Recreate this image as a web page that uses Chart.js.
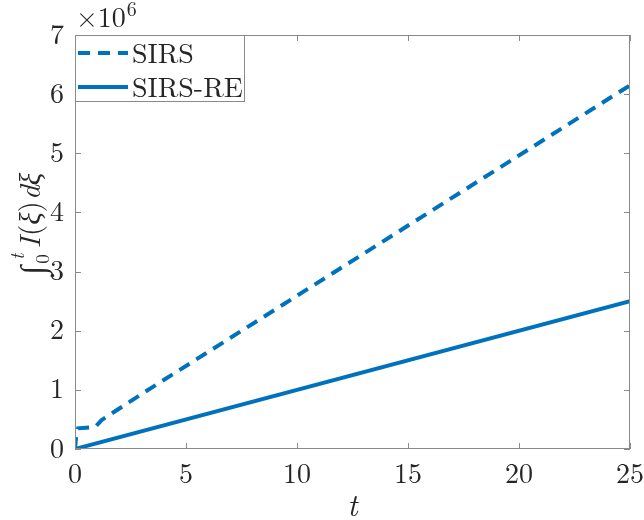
<!DOCTYPE html>
<html><head><meta charset="utf-8">
<script src="https://cdn.jsdelivr.net/npm/chart.js@4/dist/chart.umd.min.js"></script>
</head><body style="margin:0">
<canvas id="c" width="644" height="520"></canvas>
<script>
// ---- data ----
const sirsT = [0, 0.05, 0.14, 0.5, 0.9, 1.2, 3, 25];
const sirsValues = [0, 0.2e6, 0.35e6, 0.36e6, 0.37e6, 0.49e6, 0.93e6, 6.15e6];
const sirsReT = [0, 25];
const sirsReValues = [0, 2.5e6];
const seriesNames = ['SIRS', 'SIRS-RE'];
const xTickValues = [0, 5, 10, 15, 20, 25];
const yTickValues = [0, 1, 2, 3, 4, 5, 6, 7]; // ×10^6
const yScaleFactor = 1e6;

const BLUE = '#0072BD';
const AXIS = '#8a8a8a';
const TXT = '#262626';
const SERIF = '"Latin Modern Roman"';
const TICK_FONT = 28;

function pts(xs, ys) { return xs.map((x, i) => ({x: x, y: ys[i]})); }

const decorPlugin = {
  id: 'decor',
  afterDatasetsDraw(chart) {
    const {ctx, chartArea: a, scales: {x, y}} = chart;
    ctx.save();
    ctx.strokeStyle = AXIS; ctx.lineWidth = 1;
    ctx.strokeRect(a.left + 0.5, a.top + 0.5, a.right - a.left - 1, a.bottom - a.top - 1);
    const L = 6;
    ctx.beginPath();
    xTickValues.forEach(v => {
      const p = Math.round(x.getPixelForValue(v)) + 0.5;
      ctx.moveTo(p, a.bottom); ctx.lineTo(p, a.bottom - L);
      ctx.moveTo(p, a.top); ctx.lineTo(p, a.top + L);
    });
    yTickValues.forEach(v => {
      const p = Math.round(y.getPixelForValue(v * yScaleFactor)) + 0.5;
      ctx.moveTo(a.left, p); ctx.lineTo(a.left + L, p);
      ctx.moveTo(a.right, p); ctx.lineTo(a.right - L, p);
    });
    ctx.stroke();

    // exponent label ×10^6
    ctx.fillStyle = TXT;
    ctx.textBaseline = 'alphabetic';
    ctx.textAlign = 'left';
    ctx.font = '28px ' + SERIF;
    const ex = a.left + 1, ey = a.top - 8;
    ctx.fillText('×10', ex, ey);
    const w = ctx.measureText('×10').width;
    ctx.font = '20px ' + SERIF;
    ctx.fillText('6', ex + w + 1, ey - 11);

    // legend
    const lx = a.left, ly = a.top, lw = 169, lh = 66;
    ctx.fillStyle = '#fff';
    ctx.fillRect(lx, ly, lw, lh);
    ctx.strokeStyle = AXIS; ctx.lineWidth = 1;
    ctx.strokeRect(lx + 0.5, ly + 0.5, lw, lh);
    chart.data.datasets.forEach((ds, i) => {
      const yy = ly + 18 + i * 34;
      ctx.save();
      ctx.strokeStyle = ds.borderColor; ctx.lineWidth = ds.borderWidth;
      ctx.setLineDash(ds.borderDash || []);
      ctx.beginPath(); ctx.moveTo(lx + 3, yy); ctx.lineTo(lx + 53, yy); ctx.stroke();
      ctx.restore();
      ctx.fillStyle = TXT;
      ctx.font = TICK_FONT + 'px ' + SERIF;
      ctx.textBaseline = 'middle';
      ctx.fillText(ds.label, lx + 57, yy + 1);
    });

    // y-axis title: ∫_0^t I(ξ)dξ
    ctx.save();
    ctx.translate(31, (a.top + a.bottom) / 2 - 18);
    ctx.rotate(-Math.PI / 2);
    ctx.fillStyle = TXT;
    ctx.textBaseline = 'alphabetic';
    const parts = [
      {t: '∫', f: '34px ' + SERIF, dy: 4, dx: 0},
      {t: 't', f: 'italic 19px ' + SERIF, dy: -16, dx: 6, keep: true},
      {t: '0', f: '19px ' + SERIF, dy: 9, dx: 2},
      {t: 'I', f: 'italic 29px ' + SERIF, dy: 0, dx: 6},
      {t: '(', f: '29px ' + SERIF, dy: 0, dx: 1},
      {t: 'ξ', f: 'italic 29px ' + SERIF, dy: 0, dx: 0},
      {t: ')', f: '29px ' + SERIF, dy: 0, dx: 0},
      {t: 'd', f: 'italic 29px ' + SERIF, dy: 0, dx: 1},
      {t: 'ξ', f: 'italic 29px ' + SERIF, dy: 0, dx: 0}
    ];
    let total = 0;
    const widths = parts.map(p => { ctx.font = p.f; return ctx.measureText(p.t).width; });
    parts.forEach((p, i) => { if (!p.keep) total += widths[i] + p.dx; });
    let cx = -total / 2;
    parts.forEach((p, i) => {
      ctx.font = p.f;
      ctx.fillText(p.t, cx + p.dx, p.dy + 9);
      if (!p.keep) cx += widths[i] + p.dx;
    });
    ctx.restore();
    ctx.restore();
  }
};

new Chart(document.getElementById('c'), {
  type: 'line',
  data: {
    datasets: [
      {label: seriesNames[0], data: pts(sirsT, sirsValues), borderColor: BLUE, borderWidth: 4,
       borderDash: [12, 8], pointRadius: 0, tension: 0, fill: false},
      {label: seriesNames[1], data: pts(sirsReT, sirsReValues), borderColor: BLUE, borderWidth: 4,
       pointRadius: 0, tension: 0, fill: false}
    ]
  },
  options: {
    responsive: false,
    animation: false,
    devicePixelRatio: 1,
    layout: {padding: {left: 0, right: 14, top: 35, bottom: 0}},
    plugins: {legend: {display: false}, tooltip: {enabled: false}},
    scales: {
      x: {
        type: 'linear', min: 0, max: 25,
        afterFit: s => { s.height = 71; s.paddingRight = 0; s.paddingLeft = 0; },
        afterBuildTicks: s => { s.ticks = xTickValues.map(v => ({value: v})); },
        grid: {display: false, drawTicks: false},
        border: {display: false},
        ticks: {color: TXT, font: {family: SERIF, size: TICK_FONT}, padding: 9, maxRotation: 0},
        title: {display: true, text: 't', color: TXT, font: {family: SERIF, size: 31, style: 'italic', lineHeight: 0.9}, padding: {top: 0, bottom: 0}}
      },
      y: {
        type: 'linear', min: 0, max: 7e6,
        afterFit: s => { s.width = 75; s.paddingTop = 0; s.paddingBottom = 0; },
        afterBuildTicks: s => { s.ticks = yTickValues.map(v => ({value: v * yScaleFactor})); },
        grid: {display: false, drawTicks: false},
        border: {display: false},
        ticks: {color: TXT, font: {family: SERIF, size: TICK_FONT}, padding: 11,
                callback: v => String(Math.round(v / yScaleFactor))}
      }
    }
  },
  plugins: [decorPlugin]
});
</script>
</body></html>
